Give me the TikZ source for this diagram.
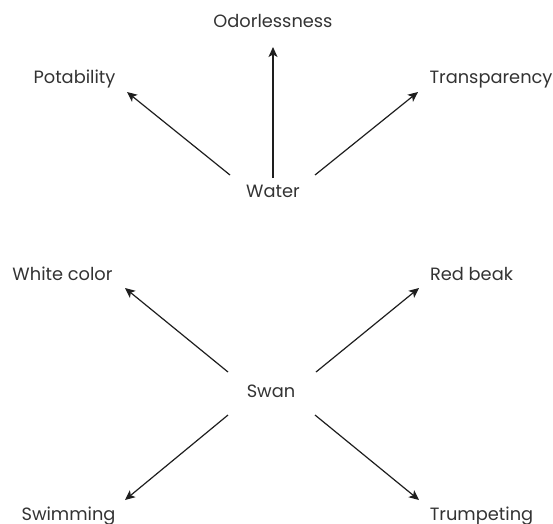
\documentclass[tikz,border=0pt]{standalone}
\usepackage{fontspec}
\setmainfont{Poppins}
\usetikzlibrary{arrows.meta,calc}
\definecolor{labelgray}{HTML}{333333}
\definecolor{arrowgray}{HTML}{1E1E1E}
\tikzset{
  lbl/.style={anchor=base, inner sep=0pt, text=labelgray, font=\fontsize{17.8}{21}\selectfont},
  arr/.style={draw=arrowgray, line width=1.2pt, -{Stealth[length=10pt,width=9pt,inset=2.5pt]}}
}
\begin{document}
\begin{tikzpicture}[x=1pt,y=-1pt]
  \useasboundingbox (0,0) rectangle (553,523);
  % Water and its properties
  \node[lbl] (odor)  at (273,27)  {Odorlessness};
  \node[lbl] (potab) at (74.5,83) {Potability};
  \node[lbl] (trans) at (491,83)  {Transparency};
  \node[lbl] (water) at (273,197) {Water};
  \draw[arr] ($(water.base)+(-43,-22)$) -- ($(potab.base)+(52.5,9)$);
  \draw[arr] ($(water.base)+(0,-19)$)   -- ($(odor.base)+(0,20)$);
  \draw[arr] ($(water.base)+(42,-22)$)  -- ($(trans.base)+(-73,9)$);
  % Swan and its traits
  \node[lbl] (white) at (62.5,280)  {White color};
  \node[lbl] (beak)  at (471.5,280) {Red beak};
  \node[lbl] (swan)  at (271,397)   {Swan};
  \node[lbl] (swim)  at (68.5,520)  {Swimming};
  \node[lbl] (trump) at (481.5,520) {Trumpeting};
  \draw[arr] ($(swan.base)+(-43,-25)$) -- ($(white.base)+(62.5,8)$);
  \draw[arr] ($(swan.base)+(45,-25)$)  -- ($(beak.base)+(-52.5,8)$);
  \draw[arr] ($(swan.base)+(-43,18)$)  -- ($(swim.base)+(56.5,-20)$);
  \draw[arr] ($(swan.base)+(44,18)$)   -- ($(trump.base)+(-62.5,-20)$);
\end{tikzpicture}
\end{document}
